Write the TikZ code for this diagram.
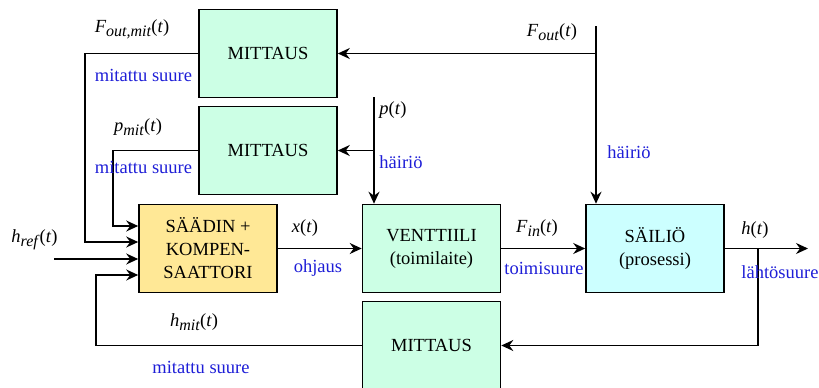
\documentclass[tikz,border=0pt]{standalone}
\usepackage{fontspec}
\setmainfont{Liberation Serif}
\usetikzlibrary{arrows.meta,positioning}

\definecolor{mitgreen}{RGB}{204,255,229}
\definecolor{ctrlyellow}{RGB}{255,232,150}
\definecolor{tankcyan}{RGB}{204,255,255}
\definecolor{lblblue}{RGB}{30,30,215}

% signal name with subscript and (t)
\newcommand{\sgnl}[2]{\textit{#1}\raisebox{-4pt}{\fontsize{16}{16}\selectfont\textit{#2}}(\textit{t})}

\begin{document}
\begin{tikzpicture}[%
    x=1pt, y=-1pt,                       % reference pixels
    >={Stealth[length=12pt,width=11pt,inset=4pt]},
    line width=1.6pt,
    font=\fontsize{18.5}{23}\selectfont,
    node distance=97pt and 223.5pt,      % box spacing, centre to centre
    ]
% -------------------------------------------------
% A few box styles
\tikzset{
  base/.style={draw, on grid, align=center, inner sep=0pt,
    minimum width=138pt, minimum height=88pt},
  meas/.style={base, fill=mitgreen},
  ctrl/.style={base, fill=ctrlyellow},
  act/.style={base, fill=mitgreen},
  tank/.style={base, fill=tankcyan},
  % Connector line style and label styles
  norm/.style={->, draw},
  sig/.style={inner sep=0pt},
  lbl/.style={inner sep=0pt, text=lblblue}
}
\useasboundingbox (0,0) rectangle (819,388);
% -------------------------------------------------
% Start by placing the boxes
\node [ctrl] (saadin) at (208,248.5) {SÄÄDIN +\\KOMPEN-\\SAATTORI};
\node [act, right=of saadin] (venttiili) {VENTTIILI\\(toimilaite)};
\node [tank, right=of venttiili] (sailio) {SÄILIÖ\\(prosessi)};
\node [meas, below=of venttiili] (mit3) {MITTAUS};
\node [meas] (mit2) at (268,150.5) {MITTAUS};
\node [meas, above=of mit2] (mit1) {MITTAUS};

% free ends of the connectors
\coordinate (fout) at (596,26);
\coordinate (pin) at (374,97);
\coordinate (href) at (54,259);
\coordinate (hout) at (808,248.5);
\coordinate (tap) at (758,248.5);

% main flow
\draw [norm] (href) -- (href -| saadin.west);
\draw [norm] (saadin) -- (venttiili);
\draw [norm] (venttiili) -- (sailio);
\draw [norm] (sailio) -- (hout);

% disturbances
\draw [norm] (fout) -- (fout |- sailio.north);
\draw [norm] (fout |- mit1.east) -- (mit1.east);
\draw [norm] (pin) -- (pin |- venttiili.north);
\draw [norm] (pin |- mit2.east) -- (mit2.east);

% measurements back to the controller
\draw [norm] (tap) |- (mit3.east);
\draw [norm] (mit1.west) -- ++(-113,0) |- ([yshift=6.5pt]saadin.west);
\draw [norm] (mit2.west) -- ++(-85,0) |- ([yshift=22.5pt]saadin.west);
\draw [norm] (mit3.west) -- ++(-266,0) |- ([yshift=-26.5pt]saadin.west);

% -------------------------------------------------
% Signal names and labels
\node [sig] (l-foutmit) at (132,29) {\sgnl{F}{out,mit}};
\node [lbl] (l-mit1) at (143.5,75) {mitattu suure};
\node [sig] (l-pmit) at (138,127) {\sgnl{p}{mit}};
\node [lbl] (l-mit2) at (143.5,167) {mitattu suure};
\node [sig] (l-href) at (34.5,240) {\sgnl{h}{ref}};
\node [sig] (l-x) at (305,228) {\textit{x}(\textit{t})};
\node [lbl] (l-ohjaus) at (318,268) {ohjaus};
\node [sig] (l-hmit) at (194,322) {\sgnl{h}{mit}};
\node [lbl] (l-mit3) at (201,367) {mitattu suure};
\node [sig] (l-fout) at (552,32) {\sgnl{F}{out}};
\node [sig] (l-p) at (393,110) {\textit{p}(\textit{t})};
\node [lbl] (l-hairio1) at (401,162) {häiriö};
\node [lbl] (l-hairio2) at (629,152) {häiriö};
\node [sig] (l-fin) at (537,228) {\sgnl{F}{in}};
\node [lbl] (l-toimi) at (544,268) {toimisuure};
\node [sig] (l-h) at (755,230) {\textit{h}(\textit{t})};
\node [lbl] (l-lahto) at (780,272) {lähtösuure};
% -------------------------------------------------
\end{tikzpicture}
\end{document}
